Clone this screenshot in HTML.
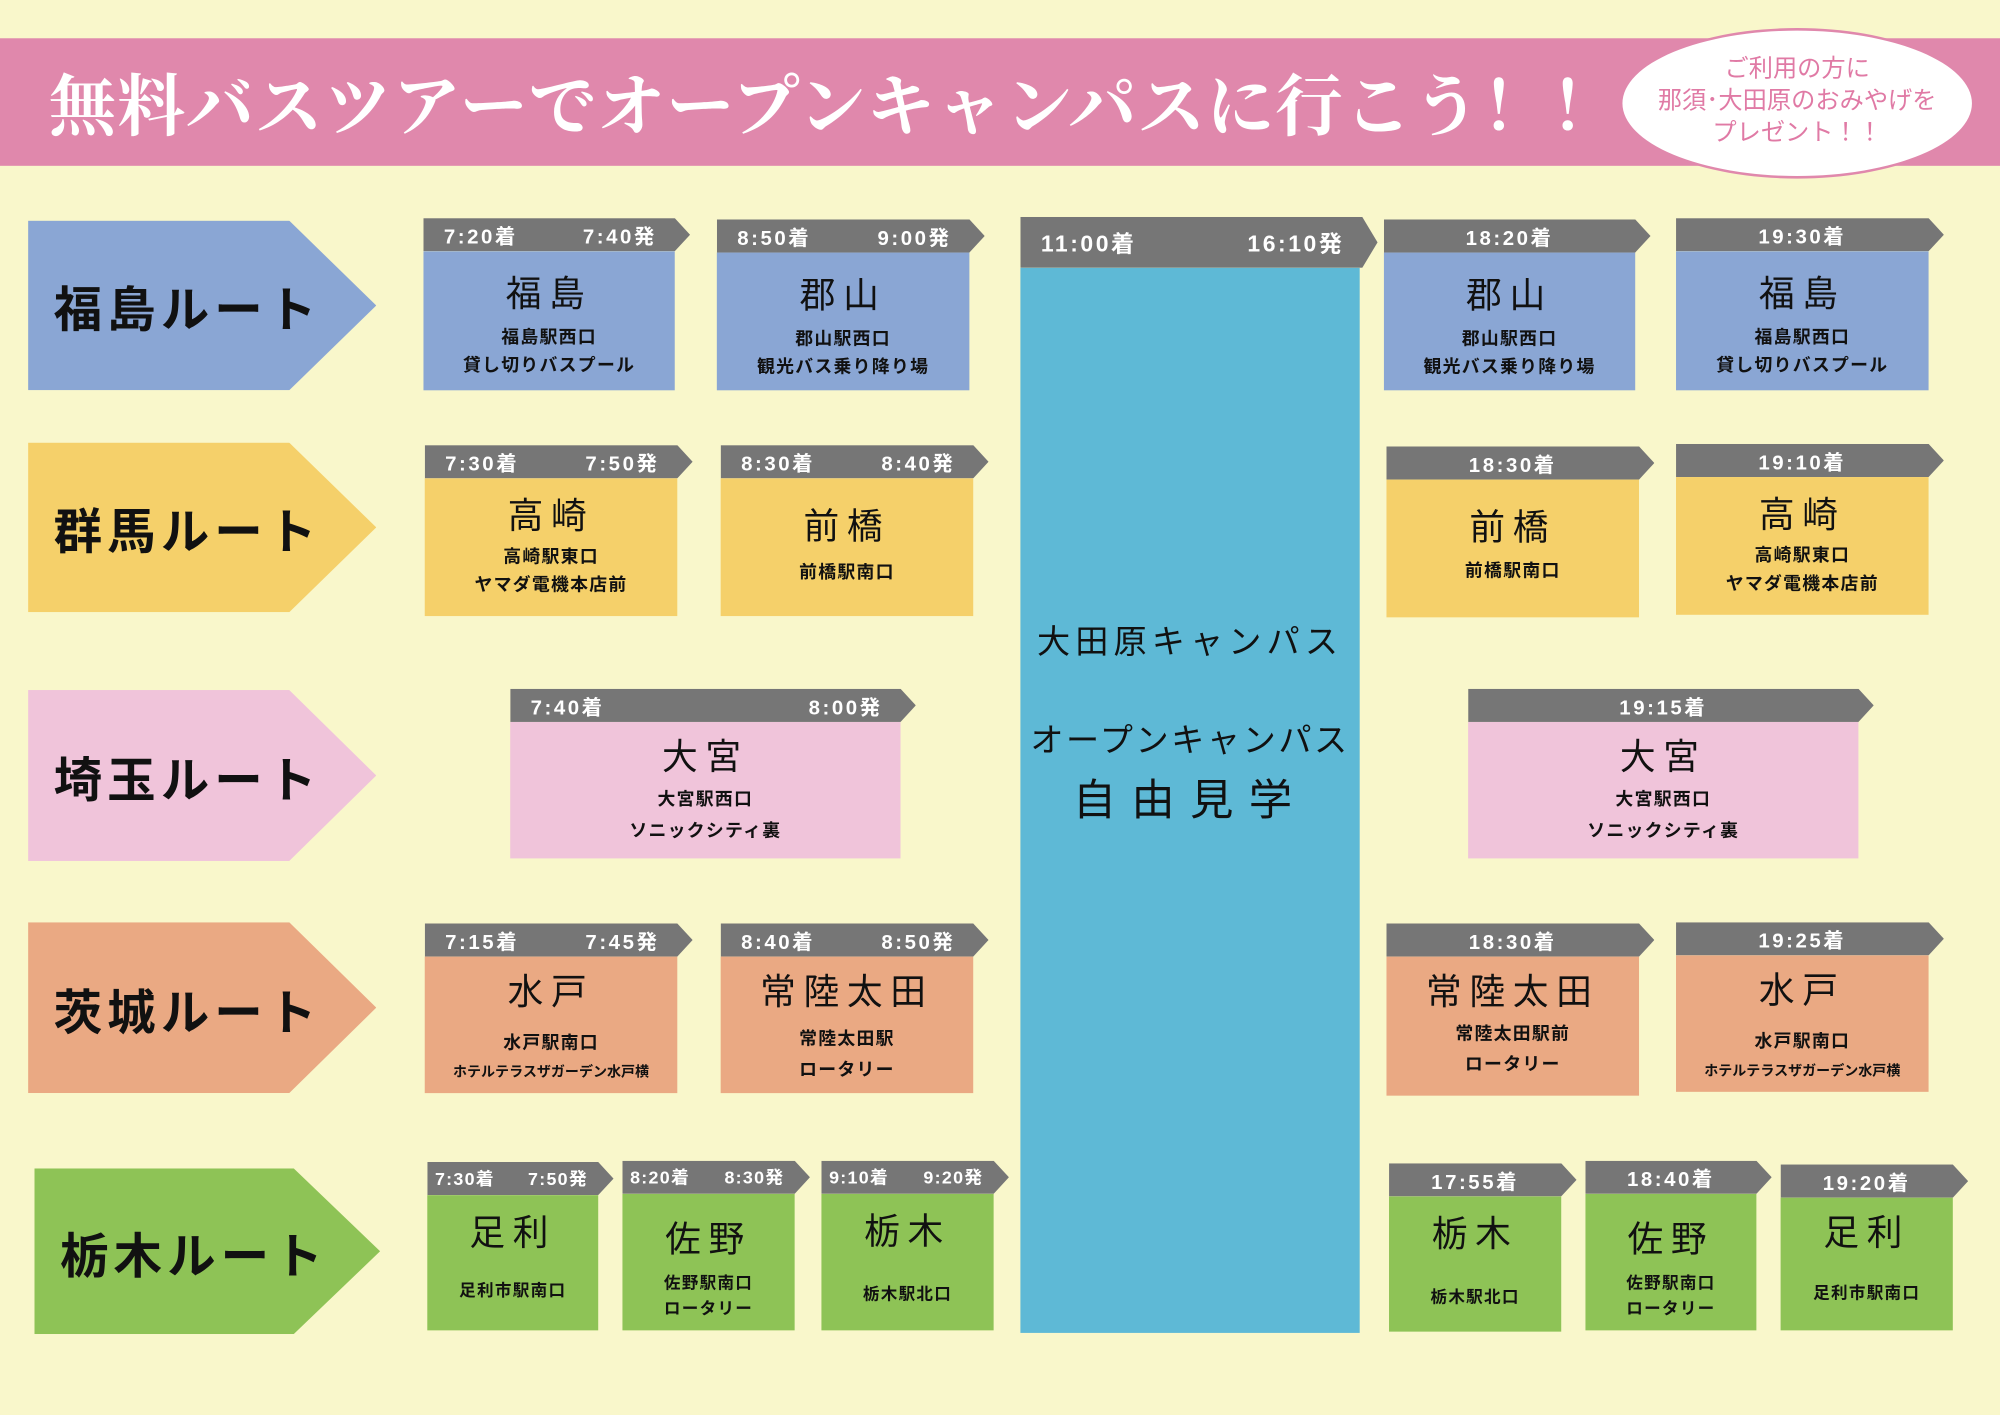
<!DOCTYPE html>
<html><head><meta charset="utf-8">
<style>
html,body{margin:0;padding:0;}
body{width:2000px;height:1414px;overflow:hidden;background:#f9f7cb;font-family:"Liberation Sans","Noto Sans CJK JP",sans-serif;}
#w{position:absolute;left:0;top:0;width:1568px;height:1109px;transform:scale(1.27551);transform-origin:0 0;}
.a{position:absolute;}
.route{position:absolute;clip-path:polygon(0 0,75% 0,100% 50%,75% 100%,0 100%);font-weight:bold;font-size:38px;letter-spacing:4px;color:#111;display:flex;align-items:center;padding-left:20px;box-sizing:border-box;}
.b{position:absolute;}
.h{height:26px;background:#767676;color:#fff;font-weight:bold;font-size:16px;letter-spacing:2px;display:flex;justify-content:space-between;align-items:center;padding:0 26px 0 16px;box-sizing:border-box;clip-path:polygon(0 0,calc(100% - 12px) 0,100% 50%,calc(100% - 12px) 100%,0 100%);}
.h.c{justify-content:center;padding:0 12px 0 0;}
.bd{text-align:center;color:#111;box-sizing:border-box;}
.t{font-size:28px;letter-spacing:6px;padding-top:14px;line-height:40px;}
.s{font-size:14px;font-weight:bold;line-height:22px;letter-spacing:1px;}
.ct{position:absolute;left:800px;width:266px;text-align:center;color:#111;white-space:nowrap;}
</style></head><body><div id="w">
<div class="a" style="left:0;top:30px;width:1568px;height:100px;background:#e088ac;"></div>
<div class="a" style="left:38px;top:40px;color:#fff;font-family:'Noto Serif CJK SC','Noto Sans CJK JP',serif;font-weight:bold;font-size:53px;letter-spacing:1px;line-height:80px;white-space:nowrap;">無料バスツアーでオープンキャンパスに行こう！！</div>
<div class="a" style="left:1270px;top:22px;width:278px;height:118px;border-radius:50%;background:#fff;border:2px solid #e088ac;box-sizing:border-box;"></div>
<div class="a" style="left:1270px;top:42px;width:278px;text-align:center;color:#e07aa5;font-size:19px;line-height:25px;">ご利用の方に<br>那須･大田原のおみやげを<br>プレゼント！！</div>

<div class="route" style="left:22px;top:173px;width:273px;height:133px;background:#8aa6d4;">福島ルート</div>
<div class="route" style="left:22px;top:347px;width:273px;height:133px;background:#f5d06a;">群馬ルート</div>
<div class="route" style="left:22px;top:541px;width:273px;height:134px;background:#f0c4da;">埼玉ルート</div>
<div class="route" style="left:22px;top:723px;width:273px;height:134px;background:#eaa983;">茨城ルート</div>
<div class="route" style="left:27px;top:916px;width:271px;height:130px;background:#8ec356;">栃木ルート</div>

<!-- center -->
<div class="b" style="left:800px;top:170px;width:280px;"><div class="h" style="height:40px;font-size:18px;">
<span>11:00着</span><span>16:10発</span></div></div>
<div class="a" style="left:800px;top:210px;width:266px;height:835px;background:#5eb9d6;"></div>
<div class="ct" style="top:483px;font-size:26px;letter-spacing:4px;line-height:40px;">大田原キャンパス</div>
<div class="ct" style="top:560px;font-size:26px;letter-spacing:2px;line-height:40px;">オープンキャンパス</div>
<div class="ct" style="top:604px;font-size:34px;letter-spacing:12px;line-height:48px;">自由見学</div>

<!-- Fukushima -->
<div class="b" style="left:332px;top:171px;width:209px;"><div class="h"><span>7:20着</span><span>7:40発</span></div><div class="bd" style="width:197px;height:109px;background:#8aa6d4;"><div class="t">福島</div><div class="s" style="margin-top:2px;">福島駅西口<br>貸し切りバスプール</div></div></div>
<div class="b" style="left:562px;top:172px;width:210px;"><div class="h"><span>8:50着</span><span>9:00発</span></div><div class="bd" style="width:198px;height:108px;background:#8aa6d4;"><div class="t">郡山</div><div class="s" style="margin-top:2px;">郡山駅西口<br>観光バス乗り降り場</div></div></div>
<div class="b" style="left:1085px;top:172px;width:209px;"><div class="h c"><span>18:20着</span></div><div class="bd" style="width:197px;height:108px;background:#8aa6d4;"><div class="t">郡山</div><div class="s" style="margin-top:2px;">郡山駅西口<br>観光バス乗り降り場</div></div></div>
<div class="b" style="left:1314px;top:171px;width:210px;"><div class="h c"><span>19:30着</span></div><div class="bd" style="width:198px;height:109px;background:#8aa6d4;"><div class="t">福島</div><div class="s" style="margin-top:2px;">福島駅西口<br>貸し切りバスプール</div></div></div>

<!-- Gunma -->
<div class="b" style="left:333px;top:349px;width:210px;"><div class="h"><span>7:30着</span><span>7:50発</span></div><div class="bd" style="width:198px;height:108px;background:#f5d06a;"><div class="t" style="padding-top:10px;">高崎</div><div class="s">高崎駅東口<br>ヤマダ電機本店前</div></div></div>
<div class="b" style="left:565px;top:349px;width:210px;"><div class="h"><span>8:30着</span><span>8:40発</span></div><div class="bd" style="width:198px;height:108px;background:#f5d06a;"><div class="t" style="padding-top:18px;">前橋</div><div class="s" style="margin-top:4px;">前橋駅南口</div></div></div>
<div class="b" style="left:1087px;top:350px;width:210px;"><div class="h c"><span>18:30着</span></div><div class="bd" style="width:198px;height:108px;background:#f5d06a;"><div class="t" style="padding-top:18px;">前橋</div><div class="s" style="margin-top:2px;">前橋駅南口</div></div></div>
<div class="b" style="left:1314px;top:348px;width:210px;"><div class="h c"><span>19:10着</span></div><div class="bd" style="width:198px;height:108px;background:#f5d06a;"><div class="t" style="padding-top:10px;">高崎</div><div class="s">高崎駅東口<br>ヤマダ電機本店前</div></div></div>

<!-- Saitama -->
<div class="b" style="left:400px;top:540px;width:318px;"><div class="h"><span>7:40着</span><span>8:00発</span></div><div class="bd" style="width:306px;height:107px;background:#f0c4da;"><div class="t" style="padding-top:8px;">大宮</div><div class="s" style="line-height:25px;">大宮駅西口<br>ソニックシティ裏</div></div></div>
<div class="b" style="left:1151px;top:540px;width:318px;"><div class="h c"><span>19:15着</span></div><div class="bd" style="width:306px;height:107px;background:#f0c4da;"><div class="t" style="padding-top:8px;">大宮</div><div class="s" style="line-height:25px;">大宮駅西口<br>ソニックシティ裏</div></div></div>

<!-- Ibaraki -->
<div class="b" style="left:333px;top:724px;width:210px;"><div class="h"><span>7:15着</span><span>7:45発</span></div><div class="bd" style="width:198px;height:107px;background:#eaa983;"><div class="t" style="padding-top:8px;">水戸</div><div class="s" style="margin-top:8px;">水戸駅南口<br><span style="font-size:11px;letter-spacing:0">ホテルテラスザガーデン水戸横</span></div></div></div>
<div class="b" style="left:565px;top:724px;width:210px;"><div class="h"><span>8:40着</span><span>8:50発</span></div><div class="bd" style="width:198px;height:107px;background:#eaa983;"><div class="t" style="padding-top:8px;">常陸太田</div><div class="s" style="margin-top:4px;line-height:24px;">常陸太田駅<br>ロータリー</div></div></div>
<div class="b" style="left:1087px;top:724px;width:210px;"><div class="h c"><span>18:30着</span></div><div class="bd" style="width:198px;height:109px;background:#eaa983;"><div class="t" style="padding-top:8px;">常陸太田</div><div class="s" style="line-height:24px;">常陸太田駅前<br>ロータリー</div></div></div>
<div class="b" style="left:1314px;top:723px;width:210px;"><div class="h c"><span>19:25着</span></div><div class="bd" style="width:198px;height:107px;background:#eaa983;"><div class="t" style="padding-top:8px;">水戸</div><div class="s" style="margin-top:8px;">水戸駅南口<br><span style="font-size:11px;letter-spacing:0">ホテルテラスザガーデン水戸横</span></div></div></div>

<!-- Tochigi -->
<div class="b" style="left:335px;top:911px;width:146px;"><div class="h" style="padding:0 20px 0 6px;font-size:14px;letter-spacing:1px;"><span>7:30着</span><span>7:50発</span></div><div class="bd" style="width:134px;height:106px;background:#8ec356;"><div class="t" style="padding-top:10px;">足利</div><div class="s" style="margin-top:14px;font-size:13px;">足利市駅南口</div></div></div>
<div class="b" style="left:488px;top:910px;width:147px;"><div class="h" style="padding:0 20px 0 6px;font-size:14px;letter-spacing:1px;"><span>8:20着</span><span>8:30発</span></div><div class="bd" style="width:135px;height:107px;background:#8ec356;"><div class="t" style="padding-top:16px;">佐野</div><div class="s" style="margin-top:4px;font-size:13px;line-height:20px;">佐野駅南口<br>ロータリー</div></div></div>
<div class="b" style="left:644px;top:910px;width:147px;"><div class="h" style="padding:0 20px 0 6px;font-size:14px;letter-spacing:1px;"><span>9:10着</span><span>9:20発</span></div><div class="bd" style="width:135px;height:107px;background:#8ec356;"><div class="t" style="padding-top:10px;">栃木</div><div class="s" style="margin-top:18px;font-size:13px;">栃木駅北口</div></div></div>
<div class="b" style="left:1089px;top:912px;width:147px;"><div class="h c"><span>17:55着</span></div><div class="bd" style="width:135px;height:106px;background:#8ec356;"><div class="t" style="padding-top:10px;">栃木</div><div class="s" style="margin-top:18px;font-size:13px;">栃木駅北口</div></div></div>
<div class="b" style="left:1243px;top:910px;width:146px;"><div class="h c"><span>18:40着</span></div><div class="bd" style="width:134px;height:107px;background:#8ec356;"><div class="t" style="padding-top:16px;">佐野</div><div class="s" style="margin-top:4px;font-size:13px;line-height:20px;">佐野駅南口<br>ロータリー</div></div></div>
<div class="b" style="left:1396px;top:913px;width:147px;"><div class="h c"><span>19:20着</span></div><div class="bd" style="width:135px;height:104px;background:#8ec356;"><div class="t" style="padding-top:8px;">足利</div><div class="s" style="margin-top:16px;font-size:13px;">足利市駅南口</div></div></div>
</div></body></html>
